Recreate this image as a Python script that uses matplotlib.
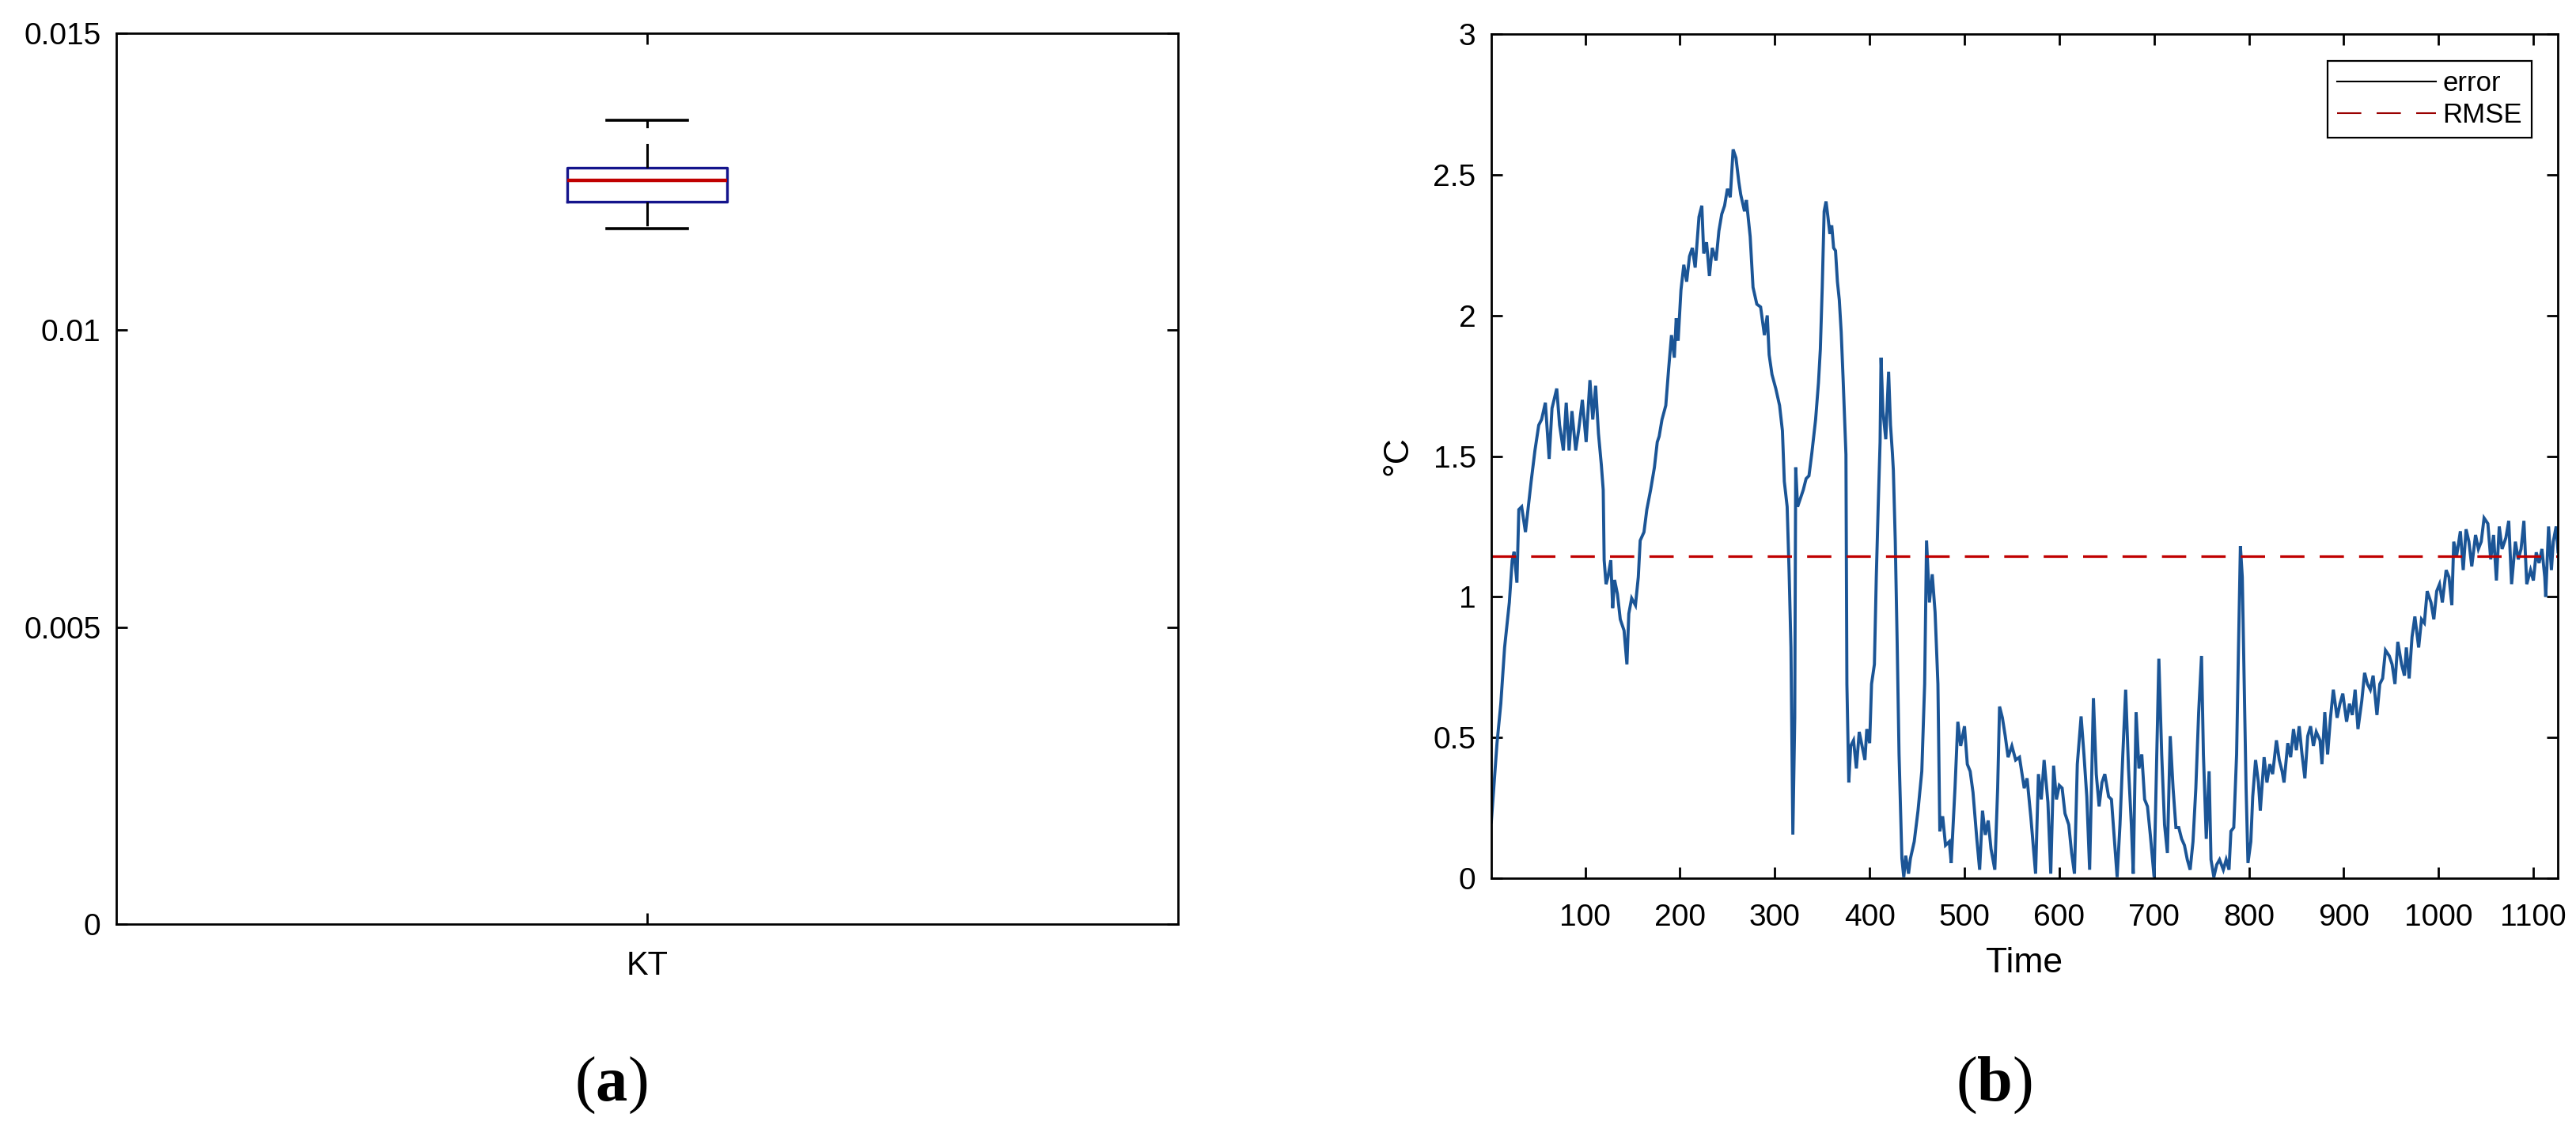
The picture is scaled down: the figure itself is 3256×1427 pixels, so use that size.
import matplotlib
matplotlib.use('Agg')
import matplotlib.pyplot as plt
from matplotlib.lines import Line2D

# ---------------- data ----------------
box_labels = ['KT']
box_q1 = 0.01216
box_med = 0.01252
box_q3 = 0.01273
box_whislo = 0.01171
box_whishi = 0.01353

left_yticks = [0, 0.005, 0.01, 0.015]
left_yticklabels = ['0', '0.005', '0.01', '0.015']

err_time = [1, 7, 11, 15, 20, 23, 25, 28, 30, 33, 37, 40, 43, 47, 51, 54, 58, 62, 65, 70,
            73, 77, 80, 83, 86, 90, 93, 97, 101, 105, 108, 111, 114, 117, 119, 120, 122, 124, 127, 129,
            131, 134, 137, 141, 144, 146, 149, 153, 156, 158, 162, 165, 169, 173, 176, 178, 181, 185, 188, 191,
            194, 196, 198, 201, 204, 207, 210, 213, 216, 220, 223, 225, 228, 231, 234, 238, 241, 244, 247, 250,
            253, 256, 259, 262, 264, 268, 270, 274, 277, 281, 285, 289, 292, 294, 297, 301, 305, 308, 310, 313,
            315, 317, 319, 321, 322, 324, 327, 330, 333, 336, 339, 341, 343, 346, 348, 350, 352, 354, 356, 358,
            360, 362, 364, 366, 368, 370, 372, 375, 376, 378, 380, 383, 386, 389, 392, 395, 397, 400, 402, 405,
            407, 409, 411, 412, 414, 417, 420, 422, 424, 425, 427, 429, 431, 434, 436, 438, 441, 443, 447, 451,
            455, 458, 460, 463, 466, 469, 472, 474, 477, 480, 484, 486, 490, 493, 496, 500, 503, 506, 509, 513,
            516, 519, 522, 525, 528, 532, 535, 537, 540, 543, 546, 550, 554, 558, 563, 566, 570, 575, 578, 581,
            584, 588, 591, 594, 597, 600, 603, 606, 610, 613, 616, 619, 623, 626, 629, 632, 636, 639, 642, 645,
            648, 652, 655, 658, 661, 664, 667, 670, 673, 676, 678, 681, 684, 687, 690, 693, 696, 700, 702, 705,
            708, 711, 714, 717, 720, 723, 726, 729, 732, 735, 738, 741, 744, 747, 750, 752, 755, 758, 760, 763,
            766, 769, 773, 776, 779, 781, 784, 787, 789, 791, 793, 795, 797, 799, 802, 804, 807, 810, 812, 816,
            819, 822, 825, 829, 832, 835, 837, 841, 844, 847, 850, 853, 856, 859, 862, 865, 868, 871, 875, 877,
            880, 883, 886, 889, 893, 896, 899, 903, 906, 909, 912, 915, 919, 922, 925, 928, 931, 935, 938, 941,
            944, 948, 951, 954, 957, 961, 964, 966, 969, 972, 975, 979, 982, 985, 988, 992, 995, 998, 1001, 1004,
            1008, 1011, 1014, 1016, 1019, 1023, 1026, 1029, 1032, 1035, 1039, 1042, 1045, 1048, 1052, 1055, 1058, 1061, 1064, 1067,
            1071, 1074, 1077, 1081, 1084, 1087, 1090, 1093, 1097, 1100, 1103, 1106, 1109, 1112, 1113, 1116, 1119, 1121, 1124, 1126]

err_value = [0.20, 0.48, 0.62, 0.82, 0.98, 1.13, 1.16, 1.05, 1.31, 1.32, 1.23, 1.32, 1.41, 1.52, 1.61, 1.63, 1.69, 1.49, 1.67, 1.74,
             1.61, 1.52, 1.69, 1.52, 1.66, 1.52, 1.59, 1.70, 1.55, 1.77, 1.63, 1.75, 1.58, 1.47, 1.38, 1.13, 1.045, 1.07, 1.13, 0.96,
             1.06, 1.01, 0.92, 0.88, 0.76, 0.94, 0.995, 0.97, 1.07, 1.20, 1.23, 1.31, 1.38, 1.46, 1.55, 1.57, 1.63, 1.68, 1.81, 1.93,
             1.85, 1.99, 1.91, 2.09, 2.18, 2.12, 2.21, 2.24, 2.17, 2.35, 2.39, 2.22, 2.26, 2.14, 2.24, 2.195, 2.30, 2.36, 2.39, 2.45,
             2.42, 2.59, 2.56, 2.475, 2.43, 2.37, 2.41, 2.28, 2.10, 2.04, 2.03, 1.93, 2.00, 1.86, 1.79, 1.74, 1.68, 1.59, 1.41, 1.32,
             1.095, 0.82, 0.155, 0.57, 1.46, 1.32, 1.35, 1.38, 1.42, 1.43, 1.51, 1.57, 1.63, 1.76, 1.88, 2.10, 2.37, 2.405, 2.35, 2.29,
             2.32, 2.24, 2.23, 2.12, 2.055, 1.94, 1.775, 1.505, 0.69, 0.34, 0.47, 0.49, 0.39, 0.52, 0.47, 0.42, 0.53, 0.48, 0.69, 0.76,
             1.07, 1.32, 1.55, 1.85, 1.66, 1.56, 1.80, 1.61, 1.51, 1.45, 1.20, 0.84, 0.44, 0.07, 0.004, 0.08, 0.016, 0.07, 0.13, 0.24,
             0.38, 0.69, 1.20, 0.98, 1.08, 0.945, 0.69, 0.167, 0.22, 0.117, 0.13, 0.054, 0.32, 0.556, 0.47, 0.54, 0.405, 0.38, 0.305, 0.14,
             0.03, 0.24, 0.154, 0.205, 0.104, 0.03, 0.32, 0.61, 0.57, 0.505, 0.43, 0.47, 0.42, 0.43, 0.32, 0.355, 0.217, 0.016, 0.37, 0.28,
             0.42, 0.27, 0.016, 0.40, 0.28, 0.33, 0.32, 0.23, 0.19, 0.09, 0.016, 0.405, 0.575, 0.44, 0.29, 0.03, 0.64, 0.37, 0.255, 0.34,
             0.37, 0.29, 0.28, 0.14, 0.004, 0.19, 0.44, 0.67, 0.39, 0.19, 0.016, 0.59, 0.39, 0.44, 0.28, 0.255, 0.154, 0.004, 0.32, 0.78,
             0.44, 0.19, 0.09, 0.505, 0.32, 0.18, 0.18, 0.14, 0.117, 0.066, 0.03, 0.13, 0.32, 0.59, 0.79, 0.44, 0.14, 0.38, 0.066, 0.004,
             0.048, 0.066, 0.03, 0.066, 0.03, 0.167, 0.18, 0.44, 0.82, 1.18, 1.07, 0.69, 0.32, 0.054, 0.13, 0.29, 0.42, 0.34, 0.24, 0.43,
             0.34, 0.405, 0.37, 0.49, 0.42, 0.38, 0.34, 0.48, 0.43, 0.53, 0.455, 0.54, 0.44, 0.355, 0.505, 0.54, 0.47, 0.52, 0.49, 0.405,
             0.59, 0.44, 0.57, 0.67, 0.57, 0.62, 0.656, 0.556, 0.62, 0.58, 0.67, 0.53, 0.63, 0.73, 0.69, 0.67, 0.72, 0.58, 0.69, 0.71,
             0.81, 0.79, 0.76, 0.69, 0.84, 0.76, 0.72, 0.82, 0.71, 0.857, 0.93, 0.82, 0.92, 0.907, 1.02, 0.98, 0.92, 1.02, 1.045, 0.98,
             1.095, 1.07, 0.97, 1.196, 1.145, 1.233, 1.095, 1.24, 1.196, 1.108, 1.22, 1.17, 1.196, 1.28, 1.26, 1.133, 1.22, 1.058, 1.25, 1.17,
             1.21, 1.27, 1.045, 1.196, 1.133, 1.17, 1.27, 1.045, 1.095, 1.058, 1.158, 1.12, 1.17, 1.07, 1.00, 1.25, 1.095, 1.196, 1.25, 1.16]

rmse_value = 1.145

right_xticks = [100, 200, 300, 400, 500, 600, 700, 800, 900, 1000, 1100]
right_yticks = [0, 0.5, 1, 1.5, 2, 2.5, 3]
right_yticklabels = ['0', '0.5', '1', '1.5', '2', '2.5', '3']
legend_labels = ['error', 'RMSE']

# ---------------- style ----------------
plt.rcParams['font.family'] = ['Liberation Sans', 'DejaVu Sans']
plt.rcParams['mathtext.fontset'] = 'custom'
plt.rcParams['mathtext.bf'] = 'Liberation Serif:bold'
plt.rcParams['mathtext.rm'] = 'Liberation Serif'

fig = plt.figure(figsize=(32.56, 14.27), dpi=100)
axL = fig.add_axes([0.04506, 0.18150, 0.41225, 0.78927])
axR = fig.add_axes([0.57893, 0.22214, 0.41410, 0.74772])

for ax in (axL, axR):
    for s in ax.spines.values():
        s.set_linewidth(2.0)
        s.set_color('black')
    ax.tick_params(direction='in', length=10, width=2, top=True, right=True,
                   colors='black', labelsize=28)
    ax.tick_params(axis='y', pad=14)

# ---------------- (a) box plot ----------------
stats = [dict(med=box_med, q1=box_q1, q3=box_q3, whislo=box_whislo,
              whishi=box_whishi, fliers=[], label=box_labels[0])]
axL.bxp(stats, positions=[1], widths=0.15, capwidths=0.076, showfliers=False,
        boxprops=dict(color='#14148c', linewidth=2.4),
        medianprops=dict(color='#c00000', linewidth=3.2),
        whiskerprops=dict(color='black', linewidth=2.2, linestyle=(0, (10, 6.5))),
        capprops=dict(color='black', linewidth=2.6))
axL.set_xlim(0.5, 1.5)
axL.set_ylim(0, 0.015)
axL.set_xticks([1], labels=box_labels)
axL.set_yticks(left_yticks, labels=left_yticklabels)
axL.tick_params(axis='x', labelsize=30, pad=24)

# ---------------- (b) error curve ----------------
axR.plot(err_time, err_value, color='#1b5596', linewidth=2.8, solid_joinstyle='miter')
axR.axhline(rmse_value, color='#c00000', linewidth=2.3, linestyle=(0, (9.6, 6)))
axR.set_xlim(1, 1126)
axR.set_ylim(0, 3)
axR.set_xticks(right_xticks)
axR.set_yticks(right_yticks, labels=right_yticklabels)
axR.tick_params(axis='x', pad=23)

axR.text(-0.0875, 0.5, '°C', transform=axR.transAxes, rotation=90,
         ha='center', va='center', fontsize=32)
axR.text(0.4993, -0.1003, 'Time', transform=axR.transAxes,
         ha='center', va='center', fontsize=32)

handles = [Line2D([], [], color='black', linewidth=1.5),
           Line2D([], [], color='#9a0000', linewidth=1.5, linestyle=(0, (14.7, 9.3)))]
leg = axR.legend(handles, legend_labels, loc='upper right',
                 bbox_to_anchor=(0.9755, 0.9681), borderaxespad=0,
                 fontsize=25, handlelength=3.6, handletextpad=0.25,
                 labelspacing=0.2, borderpad=0.35, fancybox=False,
                 framealpha=1, edgecolor='black')
leg.get_frame().set_linewidth(1.6)

# ---------------- panel captions ----------------
fig.text(0.2371, 0.0385, r'($\mathbf{a}$)', fontsize=58, family='Liberation Serif',
         ha='center', va='center')
fig.text(0.7740, 0.0385, r'($\mathbf{b}$)', fontsize=58, family='Liberation Serif',
         ha='center', va='center')

fig.savefig('out.png', dpi=100)
